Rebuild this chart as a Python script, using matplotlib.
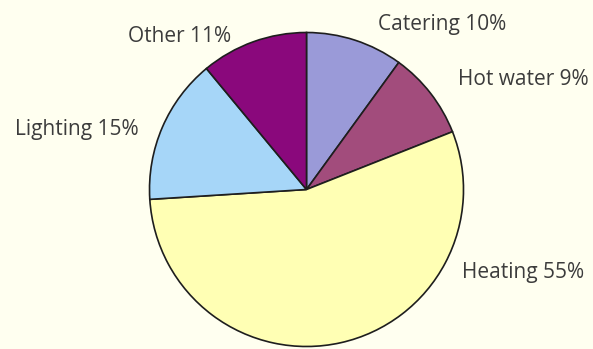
import matplotlib
matplotlib.use('Agg')
import matplotlib.pyplot as plt

# energy use breakdown
uses = ['Catering', 'Hot water', 'Heating', 'Lighting', 'Other']
shares = [10, 9, 55, 15, 11]
colors = ['#9a9ad8', '#a24c7c', '#ffffb4', '#a6d6f8', '#8a087c']

# label left edge and baseline in pixels (y measured from top)
label_pos = [(378, 30), (458, 85), (462, 278), (15, 135), (128, 42)]

W, H = 593, 349
fig = plt.figure(figsize=(W / 100, H / 100), dpi=100)
fig.patch.set_facecolor('#fffff0')
ax = fig.add_axes([0, 0, 1, 1])

ax.pie(shares, colors=colors, startangle=90, counterclock=False,
       center=(306.5, H - 189.5), radius=157, frame=True,
       wedgeprops=dict(edgecolor='#1e1e1e', linewidth=1.2))
ax.set_xlim(0, W)
ax.set_ylim(0, H)
ax.set_aspect('equal')
ax.axis('off')

for name, val, (x, y) in zip(uses, shares, label_pos):
    ax.text(x, H - y, f'{name} {val}%', ha='left', va='baseline', fontsize=15,
            family='Open Sans', color='#3c3c3c')

fig.savefig('out.png', dpi=100, facecolor=fig.get_facecolor())
